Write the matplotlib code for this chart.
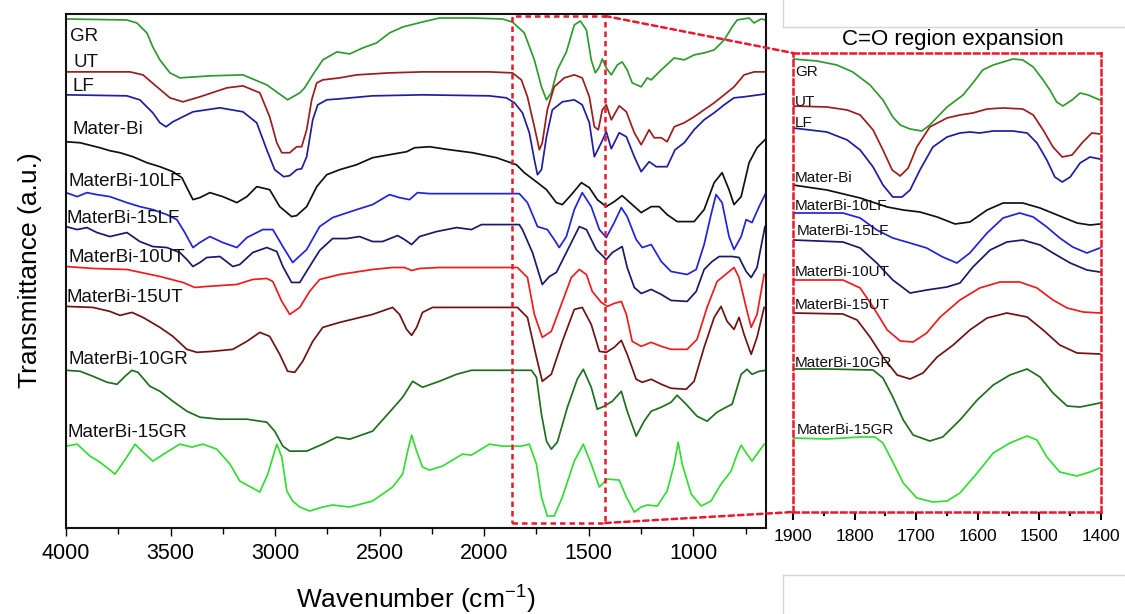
import matplotlib
matplotlib.use('Agg')
import matplotlib.pyplot as plt
from matplotlib.patches import Rectangle, ConnectionPatch
from matplotlib.lines import Line2D
from matplotlib.ticker import MultipleLocator

plt.rcParams['font.family'] = ['Liberation Sans', 'DejaVu Sans']
plt.rcParams['mathtext.default'] = 'regular'

# ---- full range spectra (wavenumber, transmittance a.u. with offsets) ----
gr_wn = [4000, 3709, 3661, 3613, 3585, 3551, 3503, 3456, 3312, 3154, 3040, 2940, 2882, 2859, 2820, 2772, 2705, 2643, 2581, 2515, 2453, 2390, 2295, 2214, 2056, 1913, 1865, 1808, 1760, 1726, 1702, 1679, 1650, 1607, 1569, 1540, 1511, 1488, 1468, 1449, 1435, 1416, 1392, 1363, 1340, 1316, 1292, 1249, 1220, 1201, 1153, 1091, 1043, 996, 948, 900, 852, 814, 790, 733, 709, 676, 652]
gr_t = [510, 509, 506, 496, 482, 469, 456, 451, 453, 454, 444, 429, 436, 441, 454, 469, 477, 475, 481, 486, 496, 502, 507, 511, 511, 510, 507, 496, 469, 442, 429, 436, 459, 477, 504, 508, 499, 469, 456, 462, 470, 461, 454, 464, 467, 459, 446, 442, 451, 449, 459, 471, 469, 474, 476, 479, 489, 502, 509, 511, 506, 510, 509]

ut_wn = [4000, 3694, 3632, 3565, 3503, 3441, 3360, 3231, 3154, 3073, 3026, 2992, 2968, 2930, 2897, 2873, 2849, 2825, 2801, 2772, 2691, 2610, 2453, 2295, 1975, 1865, 1822, 1793, 1760, 1736, 1722, 1698, 1665, 1617, 1569, 1531, 1497, 1473, 1454, 1435, 1416, 1392, 1354, 1320, 1282, 1249, 1211, 1187, 1153, 1125, 1091, 1043, 996, 948, 900, 852, 805, 757, 709, 652]
ut_t = [457, 457, 454, 442, 431, 427, 432, 441, 443, 436, 412, 386, 376, 376, 382, 382, 399, 429, 446, 449, 451, 454, 456, 457, 457, 456, 449, 432, 402, 379, 386, 419, 442, 451, 454, 451, 432, 402, 399, 419, 424, 409, 423, 417, 396, 384, 399, 391, 391, 387, 402, 406, 412, 419, 426, 434, 442, 454, 457, 457]

lf_wn = [4000, 3709, 3647, 3585, 3551, 3522, 3489, 3393, 3264, 3154, 3088, 3040, 3002, 2959, 2930, 2897, 2873, 2849, 2820, 2796, 2753, 2691, 2534, 2295, 1975, 1894, 1855, 1817, 1784, 1760, 1745, 1726, 1702, 1674, 1626, 1569, 1531, 1497, 1473, 1440, 1416, 1392, 1354, 1320, 1282, 1249, 1211, 1177, 1125, 1087, 1043, 996, 948, 900, 852, 805, 757, 652]
lf_t = [434, 433, 429, 416, 406, 402, 407, 417, 421, 417, 406, 379, 359, 352, 353, 359, 360, 372, 409, 424, 429, 430, 433, 434, 433, 431, 426, 416, 396, 369, 354, 359, 392, 419, 427, 429, 424, 406, 372, 386, 397, 380, 396, 392, 372, 357, 367, 362, 362, 379, 386, 399, 409, 416, 424, 431, 432, 435]

mb_wn = [4000, 3933, 3876, 3838, 3790, 3742, 3680, 3613, 3551, 3489, 3446, 3422, 3393, 3360, 3312, 3250, 3183, 3135, 3088, 3026, 2978, 2921, 2897, 2849, 2801, 2753, 2691, 2610, 2534, 2453, 2371, 2333, 2261, 2166, 2056, 1941, 1846, 1808, 1745, 1702, 1655, 1626, 1583, 1535, 1497, 1459, 1416, 1378, 1340, 1292, 1249, 1201, 1163, 1125, 1077, 996, 948, 900, 862, 829, 805, 771, 733, 695, 657]
mb_t = [387, 386, 383, 381, 378, 376, 372, 366, 362, 357, 351, 341, 329, 331, 336, 332, 326, 332, 342, 339, 322, 312, 313, 322, 342, 354, 359, 364, 371, 374, 377, 381, 382, 379, 376, 371, 364, 356, 346, 339, 326, 324, 334, 346, 341, 329, 322, 327, 333, 324, 316, 322, 322, 314, 307, 307, 319, 346, 356, 339, 324, 332, 366, 381, 389]

lf10_wn = [4000, 3947, 3900, 3852, 3790, 3709, 3647, 3585, 3518, 3470, 3432, 3393, 3360, 3312, 3250, 3183, 3135, 3059, 3011, 2963, 2916, 2849, 2787, 2725, 2610, 2534, 2453, 2405, 2357, 2319, 2261, 2056, 1832, 1793, 1745, 1698, 1665, 1641, 1607, 1569, 1531, 1488, 1449, 1416, 1378, 1344, 1316, 1273, 1244, 1201, 1153, 1106, 1029, 986, 948, 915, 891, 862, 829, 805, 771, 747, 719, 685, 652]
lf10_t = [336, 332, 336, 334, 332, 326, 322, 319, 314, 309, 296, 281, 286, 292, 286, 281, 291, 299, 299, 282, 266, 279, 302, 311, 319, 324, 334, 331, 329, 336, 335, 335, 335, 326, 302, 299, 289, 281, 292, 319, 336, 322, 299, 291, 306, 321, 312, 289, 281, 284, 267, 257, 254, 259, 284, 314, 334, 326, 292, 279, 292, 309, 306, 322, 336]

lf15_wn = [4000, 3947, 3900, 3852, 3790, 3709, 3647, 3585, 3518, 3456, 3422, 3393, 3360, 3327, 3264, 3202, 3169, 3107, 3040, 2992, 2963, 2921, 2882, 2835, 2787, 2725, 2658, 2596, 2534, 2486, 2414, 2381, 2347, 2309, 2228, 2132, 2061, 2013, 1941, 1832, 1817, 1769, 1722, 1688, 1655, 1607, 1545, 1511, 1464, 1416, 1387, 1340, 1316, 1282, 1249, 1201, 1153, 1106, 1029, 986, 948, 910, 876, 814, 781, 747, 723, 695, 657]
lf15_t = [302, 299, 301, 296, 292, 296, 287, 282, 281, 276, 269, 262, 266, 271, 272, 262, 264, 276, 281, 277, 262, 246, 246, 262, 278, 290, 290, 292, 287, 287, 293, 289, 284, 292, 297, 301, 299, 304, 304, 304, 299, 276, 244, 252, 256, 276, 302, 299, 279, 269, 276, 282, 261, 241, 235, 239, 234, 228, 227, 237, 259, 267, 272, 272, 271, 257, 251, 261, 302]

ut10_wn = [4000, 3871, 3709, 3551, 3441, 3384, 3327, 3183, 3107, 3040, 3011, 2968, 2930, 2882, 2835, 2787, 2691, 2534, 2438, 2381, 2347, 2309, 2214, 1841, 1793, 1760, 1722, 1679, 1631, 1583, 1545, 1511, 1483, 1440, 1411, 1378, 1344, 1320, 1292, 1249, 1201, 1153, 1106, 1029, 982, 934, 886, 805, 781, 747, 723, 695, 661]
ut10_t = [262, 260, 259, 252, 246, 241, 242, 244, 249, 250, 247, 227, 214, 221, 237, 249, 254, 259, 261, 261, 258, 260, 261, 261, 251, 214, 191, 197, 224, 251, 259, 254, 237, 226, 222, 225, 227, 214, 187, 182, 186, 182, 179, 179, 189, 221, 247, 261, 251, 221, 201, 214, 254]

ut15_wn = [4000, 3871, 3790, 3742, 3685, 3632, 3551, 3489, 3422, 3374, 3298, 3202, 3135, 3073, 3026, 2978, 2940, 2906, 2868, 2820, 2772, 2691, 2534, 2438, 2405, 2371, 2347, 2323, 2295, 2247, 1841, 1793, 1750, 1722, 1679, 1626, 1569, 1531, 1488, 1449, 1416, 1378, 1344, 1316, 1273, 1244, 1201, 1153, 1106, 1034, 996, 948, 900, 867, 838, 805, 781, 757, 723, 695, 661]
ut15_t = [222, 221, 217, 213, 216, 211, 201, 192, 179, 176, 177, 179, 187, 196, 192, 174, 157, 156, 167, 187, 201, 206, 214, 221, 214, 199, 193, 201, 216, 221, 221, 211, 171, 147, 154, 187, 219, 221, 204, 177, 176, 181, 188, 174, 149, 146, 149, 144, 140, 139, 147, 181, 211, 222, 207, 199, 211, 194, 174, 191, 221]

gr10_wn = [4000, 3933, 3871, 3804, 3756, 3718, 3685, 3656, 3599, 3551, 3489, 3422, 3360, 3264, 3135, 3040, 3002, 2963, 2930, 2849, 2772, 2705, 2643, 2534, 2453, 2390, 2342, 2295, 2214, 2132, 2061, 1774, 1750, 1726, 1702, 1679, 1650, 1602, 1555, 1526, 1488, 1459, 1426, 1387, 1344, 1316, 1273, 1235, 1201, 1153, 1106, 1077, 1034, 982, 934, 886, 843, 814, 771, 743, 719, 685, 652]
gr10_t = [158, 157, 152, 146, 144, 152, 158, 156, 142, 137, 127, 117, 111, 109, 109, 106, 97, 82, 77, 77, 84, 91, 89, 97, 116, 131, 147, 141, 147, 154, 158, 158, 151, 114, 87, 79, 86, 121, 149, 159, 141, 119, 122, 127, 137, 117, 92, 107, 117, 121, 126, 133, 124, 112, 107, 116, 121, 124, 154, 159, 154, 157, 158]

gr15_wn = [4000, 3947, 3885, 3838, 3766, 3709, 3670, 3637, 3585, 3518, 3456, 3398, 3346, 3279, 3216, 3169, 3073, 3035, 2992, 2968, 2944, 2916, 2882, 2835, 2772, 2725, 2643, 2534, 2438, 2390, 2366, 2347, 2323, 2295, 2261, 2199, 2104, 2061, 1975, 1913, 1822, 1784, 1750, 1726, 1698, 1665, 1626, 1569, 1526, 1488, 1449, 1411, 1354, 1320, 1282, 1249, 1220, 1172, 1125, 1091, 1072, 1053, 1010, 962, 915, 867, 819, 790, 771, 743, 719, 685, 661]
gr15_t = [82, 84, 72, 66, 54, 71, 84, 77, 67, 76, 84, 81, 84, 79, 64, 47, 36, 54, 84, 71, 37, 27, 21, 17, 21, 23, 21, 27, 41, 54, 77, 93, 77, 61, 58, 62, 74, 73, 84, 82, 82, 84, 64, 31, 12, 12, 31, 67, 84, 64, 41, 49, 48, 31, 16, 21, 23, 22, 37, 64, 86, 64, 34, 22, 27, 44, 57, 74, 83, 74, 67, 77, 84]

# ---- C=O region expansion (1900-1400 cm-1) ----
z_gr_wn = [1900, 1861, 1829, 1803, 1775, 1754, 1738, 1726, 1710, 1691, 1678, 1650, 1624, 1608, 1592, 1575, 1559, 1543, 1527, 1510, 1494, 1483, 1472, 1462, 1447, 1434, 1421, 1402]
z_gr_t = [453, 451, 447, 440, 427, 412, 395, 387, 383, 381, 387, 405, 417, 429, 442, 447, 450, 453, 452, 445, 432, 422, 410, 406, 412, 419, 417, 412]

z_ut_wn = [1900, 1845, 1812, 1791, 1770, 1754, 1739, 1726, 1713, 1699, 1678, 1650, 1629, 1608, 1585, 1559, 1527, 1510, 1494, 1478, 1463, 1447, 1431, 1415, 1402]
z_ut_t = [406, 405, 402, 397, 382, 362, 342, 336, 344, 365, 385, 394, 397, 399, 403, 404, 403, 397, 382, 365, 355, 357, 369, 379, 378]

z_lf_wn = [1900, 1845, 1812, 1791, 1770, 1754, 1738, 1723, 1710, 1694, 1673, 1650, 1629, 1613, 1597, 1575, 1543, 1520, 1504, 1488, 1475, 1463, 1450, 1434, 1418, 1402]
z_lf_t = [384, 380, 372, 362, 345, 327, 315, 315, 322, 342, 365, 375, 379, 380, 379, 381, 381, 379, 369, 352, 335, 330, 335, 349, 355, 353]

z_mb_wn = [1900, 1845, 1791, 1747, 1721, 1694, 1666, 1637, 1613, 1585, 1559, 1527, 1499, 1467, 1439, 1418, 1402]
z_mb_t = [327, 322, 314, 305, 302, 300, 295, 288, 290, 302, 309, 309, 304, 296, 289, 287, 288]

z_lf10_wn = [1900, 1819, 1791, 1764, 1738, 1710, 1683, 1657, 1634, 1613, 1585, 1559, 1532, 1510, 1488, 1467, 1446, 1423, 1402]
z_lf10_t = [299, 299, 294, 282, 274, 269, 264, 255, 249, 259, 279, 294, 299, 295, 285, 274, 265, 259, 264]

z_lf15_wn = [1900, 1819, 1791, 1764, 1738, 1710, 1683, 1650, 1629, 1608, 1580, 1553, 1527, 1499, 1478, 1450, 1423, 1402]
z_lf15_t = [272, 270, 264, 249, 232, 219, 222, 225, 229, 245, 262, 270, 272, 267, 259, 249, 242, 240]

z_ut10_wn = [1900, 1819, 1791, 1770, 1747, 1726, 1705, 1683, 1661, 1629, 1597, 1564, 1532, 1504, 1478, 1455, 1429, 1402]
z_ut10_t = [232, 232, 224, 205, 182, 171, 170, 179, 195, 212, 224, 230, 230, 224, 212, 204, 200, 199]

z_ut15_wn = [1900, 1819, 1796, 1775, 1754, 1731, 1710, 1689, 1666, 1640, 1613, 1585, 1553, 1520, 1494, 1467, 1439, 1402]
z_ut15_t = [199, 198, 192, 175, 155, 137, 133, 139, 155, 167, 182, 194, 199, 195, 182, 167, 159, 158]

z_gr10_wn = [1900, 1845, 1770, 1754, 1738, 1721, 1705, 1678, 1657, 1629, 1601, 1575, 1548, 1520, 1499, 1478, 1455, 1434, 1402]
z_gr10_t = [143, 143, 142, 134, 115, 92, 77, 71, 75, 92, 112, 127, 137, 143, 135, 119, 106, 105, 109]

z_gr15_wn = [1900, 1845, 1791, 1767, 1754, 1738, 1721, 1699, 1673, 1650, 1629, 1601, 1575, 1548, 1520, 1504, 1488, 1467, 1439, 1418, 1402]
z_gr15_t = [74, 73, 75, 75, 69, 50, 29, 14, 10, 11, 19, 39, 59, 69, 76, 72, 55, 40, 36, 40, 44]

names = ['GR', 'UT', 'LF', 'Mater-Bi', 'MaterBi-10LF', 'MaterBi-15LF',
         'MaterBi-10UT', 'MaterBi-15UT', 'MaterBi-10GR', 'MaterBi-15GR']
colors = ['#2f9a2f', '#9a1e1e', '#1e1e9e', '#111111', '#2222d8', '#1a1a66',
          '#ee1c1c', '#6e1414', '#206e20', '#33dd33']
full = [(gr_wn, gr_t), (ut_wn, ut_t), (lf_wn, lf_t), (mb_wn, mb_t), (lf10_wn, lf10_t),
        (lf15_wn, lf15_t), (ut10_wn, ut10_t), (ut15_wn, ut15_t), (gr10_wn, gr10_t), (gr15_wn, gr15_t)]
zoomed = [(z_gr_wn, z_gr_t), (z_ut_wn, z_ut_t), (z_lf_wn, z_lf_t), (z_mb_wn, z_mb_t),
          (z_lf10_wn, z_lf10_t), (z_lf15_wn, z_lf15_t), (z_ut10_wn, z_ut10_t),
          (z_ut15_wn, z_ut15_t), (z_gr10_wn, z_gr10_t), (z_gr15_wn, z_gr15_t)]

# label anchor points (wavenumber, transmittance)
label_wn = [3981, 3966, 3971, 3971, 3990, 4000, 3990, 4000, 3986, 3995]
label_t = [492, 466, 442, 399, 347, 310, 271, 231, 169, 96]
zlabel_wn = [1897, 1897, 1897, 1897, 1897, 1894, 1897, 1897, 1897, 1894]
zlabel_t = [440, 410, 389, 334, 306, 281, 240, 207, 149, 82]

fig = plt.figure(figsize=(11.25, 6.14), dpi=100)
ax = fig.add_axes([0.0587, 0.1401, 0.6222, 0.8371])
ax2 = fig.add_axes([0.7049, 0.1661, 0.2738, 0.7476])

for (wn, t), c in zip(full, colors):
    ax.plot(wn, t, color=c, lw=1.25, solid_joinstyle='round')
for name, x, y in zip(names, label_wn, label_t):
    ax.text(x, y, name, fontsize=13.5, ha='left', va='center', color='#111111')

ax.set_xlim(4000, 652)
ax.set_ylim(0, 515)
ax.xaxis.set_minor_locator(MultipleLocator(250))
ax.set_xticks([4000, 3500, 3000, 2500, 2000, 1500, 1000])
ax.set_yticks([])
ax.tick_params(axis='x', which='major', direction='out', length=6, width=1, labelsize=15.5, pad=5)
ax.tick_params(axis='x', which='minor', direction='out', length=4, width=1)
for s in ax.spines.values():
    s.set_linewidth(1.5)
    s.set_color('#111111')

red = '#e8192c'
dash = (0, (2.2, 1.6))
ax.add_patch(Rectangle((1865, 5), 1421 - 1865, 508, fill=False, ec=red, lw=1.8, ls=dash, zorder=5))

for (wn, t), c in zip(zoomed, colors):
    ax2.plot(wn, t, color=c, lw=1.25, solid_joinstyle='round')
for name, x, y in zip(names, zlabel_wn, zlabel_t):
    ax2.text(x, y, name, fontsize=11, ha='left', va='center', color='#111111')

ax2.set_xlim(1900, 1400)
ax2.set_ylim(0, 459)
ax2.set_xticks([1900, 1800, 1700, 1600, 1500, 1400])
ax2.xaxis.set_minor_locator(MultipleLocator(50))
ax2.set_yticks([])
ax2.tick_params(axis='x', which='major', direction='out', length=6, width=1.5, labelsize=12.5, pad=6)
ax2.tick_params(axis='x', which='minor', direction='out', length=3, width=1.5)
for s in ax2.spines.values():
    s.set_color(red)
    s.set_linestyle(dash)
    s.set_linewidth(1.8)

for xy_main, xy_zoom in [((1421, 513), (1900, 459)), ((1421, 5), (1900, 0))]:
    con = ConnectionPatch(xyA=xy_main, coordsA=ax.transData, xyB=xy_zoom, coordsB=ax2.transData,
                          color=red, lw=1.8, ls=dash)
    fig.add_artist(con)

fig.text(953 / 1125, 1 - 40 / 614, 'C=O region expansion', fontsize=16, ha='center', va='center')
fig.text(30 / 1125, 1 - 270 / 614, 'Transmittance (a.u.)', fontsize=19, rotation=90, ha='center', va='center')
fig.text(416 / 1125, 1 - 600 / 614, 'Wavenumber (cm$^{-1}$)', fontsize=19, ha='center', va='center')

# faint frame lines of the original page
gray = '#d6d6d6'
for xs, ys in [((783, 783), (0, 27)), ((783, 1125), (27, 27)), ((783, 1125), (575, 575)), ((783, 783), (575, 614))]:
    fig.add_artist(Line2D([x / 1125 for x in xs], [1 - y / 614 for y in ys], color=gray, lw=1))

fig.savefig('out.png', dpi=100)
